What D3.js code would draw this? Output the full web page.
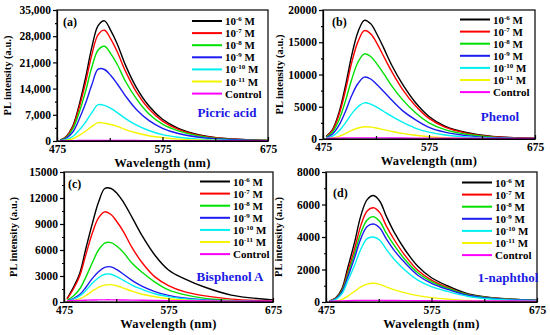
<!DOCTYPE html>
<meta charset="utf-8">
<style>
body { margin: 0; background: #fff; }
svg { font-family: "Liberation Serif", "Times New Roman", serif; font-weight: bold; }
.axis text { font-size: 11.5px; font-weight: bold; fill: #000; font-family: "Liberation Serif", serif; }
.axis path, .axis line { stroke: #000; stroke-width: 1.2px; }
</style>
<body>
<script src="https://d3js.org/d3.v7.min.js"></script>
<script>

const width = 550
const height = 335

// shared wavelength grid (nm) the spectra were read at
const wavelengths = [478, 484, 490, 496, 502, 508, 514, 520, 526, 532, 540, 550, 562, 575, 590, 610, 635, 675]
const xTicks = [475, 575, 675]
const xMinorTicks = [525, 625]

// legend
const exponents = ['-6', '-7', '-8', '-9', '-10', '-11']
const colors = ['#000000', '#ff0000', '#00e000', '#1c1cf0', '#00f0f0', '#f5f500', '#ff00ff']

// (a) picric acid: 1e-6 .. 1e-11 M, control
const picricAcid = [
  [200, 1300, 4000, 9600, 16800, 25000, 30800, 32100, 29500, 26000, 20200, 14400, 9400, 5800, 3400, 1650, 650, 150],
  [180, 1200, 3700, 8900, 15500, 23000, 28400, 29600, 27200, 23900, 18600, 13200, 8600, 5300, 3100, 1500, 600, 150],
  [150, 1000, 3200, 7600, 13200, 19700, 24300, 25300, 23300, 20500, 15900, 11400, 7300, 4500, 2700, 1300, 500, 130],
  [120, 800, 2400, 5800, 10000, 15000, 19200, 19100, 17500, 15300, 12000, 8500, 5500, 3400, 2000, 1000, 400, 100],
  [60, 400, 1200, 2900, 5000, 7600, 9700, 9500, 8700, 7600, 6000, 4300, 2800, 1700, 1000, 500, 200, 60],
  [30, 200, 600, 1500, 2600, 3900, 4900, 4750, 4400, 3900, 3050, 2200, 1400, 900, 500, 250, 100, 30],
  [60, 80, 100, 120, 130, 140, 150, 150, 150, 140, 130, 120, 110, 100, 90, 80, 70, 60]
]

// (b) phenol
const phenol = [
  [370, 1470, 4050, 8100, 12900, 16600, 18400, 17850, 16200, 14200, 11400, 8500, 5700, 3500, 2000, 1000, 400, 110],
  [340, 1340, 3700, 7400, 11800, 15100, 16800, 16300, 14800, 12900, 10400, 7700, 5200, 3200, 1850, 920, 370, 100],
  [260, 1060, 2900, 5800, 9200, 11900, 13200, 12800, 11600, 10200, 8200, 6100, 4100, 2500, 1450, 730, 290, 80],
  [190, 770, 2100, 4200, 6700, 8600, 9600, 9300, 8400, 7400, 6000, 4400, 3000, 1800, 1060, 530, 210, 60],
  [110, 450, 1230, 2460, 3900, 5000, 5600, 5400, 4900, 4300, 3500, 2600, 1700, 1060, 620, 310, 120, 35],
  [40, 150, 420, 840, 1330, 1700, 1900, 1840, 1670, 1460, 1180, 870, 590, 360, 210, 100, 40, 12],
  [100, 120, 140, 160, 170, 180, 180, 180, 175, 170, 160, 150, 140, 130, 120, 110, 100, 90]
]

// (c) bisphenol A
const bisphenolA = [
  [400, 1700, 3300, 6200, 9000, 11500, 13100, 13100, 12500, 11500, 9800, 7600, 5400, 3700, 2700, 1700, 800, 250],
  [350, 1500, 3000, 5500, 7900, 9700, 10400, 10100, 9200, 8100, 6300, 4500, 2900, 1900, 1200, 700, 330, 120],
  [200, 700, 1500, 2900, 4500, 6000, 6800, 6850, 6400, 5700, 4500, 3400, 2300, 1400, 850, 420, 180, 60],
  [120, 400, 850, 1700, 2700, 3500, 4000, 4050, 3700, 3200, 2500, 1800, 1200, 770, 460, 230, 100, 40],
  [100, 320, 700, 1350, 2150, 2800, 3200, 3200, 2900, 2500, 1950, 1450, 950, 620, 370, 190, 80, 30],
  [50, 150, 350, 750, 1250, 1700, 1950, 2000, 1850, 1600, 1250, 900, 600, 380, 230, 120, 50, 20],
  [150, 170, 190, 210, 230, 240, 250, 250, 240, 230, 220, 200, 180, 160, 140, 120, 100, 80]
]

// (d) 1-naphthol
const naphthol = [
  [50, 250, 800, 2200, 3650, 5300, 6300, 6550, 6200, 5300, 4250, 3200, 2200, 1490, 1000, 500, 250, 100],
  [50, 220, 700, 1950, 3250, 4700, 5600, 5800, 5500, 4700, 3800, 2850, 1950, 1350, 900, 450, 230, 100],
  [40, 200, 650, 1750, 2950, 4250, 5050, 5250, 4950, 4250, 3450, 2600, 1800, 1250, 850, 430, 220, 100],
  [40, 180, 600, 1600, 2700, 3900, 4650, 4800, 4550, 3900, 3150, 2400, 1650, 1150, 780, 400, 200, 90],
  [30, 150, 500, 1350, 2250, 3250, 3900, 4000, 3800, 3250, 2600, 1950, 1350, 950, 650, 340, 170, 80],
  [10, 40, 140, 380, 650, 930, 1100, 1150, 1080, 930, 750, 560, 390, 270, 180, 90, 50, 20],
  [50, 60, 70, 80, 90, 100, 100, 100, 100, 95, 90, 85, 80, 75, 70, 65, 60, 55]
]

const panels = [
  { tag: '(a)', name: 'Picric acid', data: picricAcid, yMax: 35000, yStep: 7000, fmt: d3.format(','),
    box: [57, 10, 268, 141], legend: [192, 21], label: [227, 117], tagPos: [63, 26], yTitleX: 9 },
  { tag: '(b)', name: 'Phenol', data: phenol, yMax: 20000, yStep: 5000, fmt: d3.format('d'),
    box: [323, 10, 535, 139], legend: [460, 19.5], label: [500, 121], tagPos: [332, 26], yTitleX: 281 },
  { tag: '(c)', name: 'Bisphenol A', data: bisphenolA, yMax: 15000, yStep: 3000, fmt: d3.format('d'),
    box: [64, 172, 273, 302], legend: [200, 181.5], label: [230, 281], tagPos: [68, 188], yTitleX: 15 },
  { tag: '(d)', name: '1-naphthol', data: naphthol, yMax: 8000, yStep: 2000, fmt: d3.format('d'),
    box: [326, 172, 537, 302], legend: [462, 182.5], label: [508, 282], tagPos: [333, 197], yTitleX: 280 }
]

const svg = d3.select('body').append('svg')
  .attr('width', width)
  .attr('height', height)

panels.forEach((p, pi) => {
  const [x0, y0, x1, y1] = p.box
  const x = d3.scaleLinear().domain([475, 675]).range([x0, x1])
  const y = d3.scaleLinear().domain([0, p.yMax]).range([y1, y0])
  const g = svg.append('g')

  g.append('clipPath').attr('id', 'clip' + pi)
    .append('rect').attr('x', x0).attr('y', y0).attr('width', x1 - x0).attr('height', y1 - y0)

  // spectra
  const line = d3.line()
    .x((d, i) => x(wavelengths[i]))
    .y(d => y(d))
    .curve(d3.curveCatmullRom)

  g.append('g').attr('clip-path', 'url(#clip' + pi + ')')
    .selectAll('path')
    .data(p.data)
    .join('path')
    .attr('d', line)
    .attr('fill', 'none')
    .attr('stroke', (d, i) => colors[i])
    .attr('stroke-width', 1.4)

  // frame
  g.append('rect')
    .attr('x', x0).attr('y', y0)
    .attr('width', x1 - x0).attr('height', y1 - y0)
    .attr('fill', 'none').attr('stroke', '#000').attr('stroke-width', 1.2)

  // y axis
  g.append('g').attr('class', 'axis')
    .attr('transform', `translate(${x0},0)`)
    .call(d3.axisLeft(y).tickValues(d3.range(0, p.yMax + 1, p.yStep)).tickFormat(p.fmt)
      .tickSize(4).tickSizeOuter(0).tickPadding(2))
  g.append('g').attr('class', 'axis')
    .attr('transform', `translate(${x0},0)`)
    .call(d3.axisLeft(y).tickValues(d3.range(p.yStep / 2, p.yMax, p.yStep)).tickFormat('')
      .tickSize(2).tickSizeOuter(0))
    .select('.domain').remove()

  // x axis
  g.append('g').attr('class', 'axis')
    .attr('transform', `translate(0,${y1})`)
    .call(d3.axisBottom(x).tickValues(xTicks).tickSize(-4).tickSizeOuter(0).tickPadding(4))
  g.append('g').attr('class', 'axis')
    .attr('transform', `translate(0,${y1})`)
    .call(d3.axisBottom(x).tickValues(xMinorTicks).tickFormat('').tickSize(-3).tickSizeOuter(0))
    .select('.domain').remove()

  // axis titles
  g.append('text')
    .attr('x', (x0 + x1) / 2).attr('y', y1 + 26)
    .attr('text-anchor', 'middle')
    .style('font-size', '12.5px')
    .style('letter-spacing', '0.3px')
    .text('Wavelength (nm)')
  g.append('text')
    .attr('transform', `translate(${p.yTitleX},${(y0 + y1) / 2}) rotate(-90)`)
    .attr('text-anchor', 'middle')
    .attr('dominant-baseline', 'middle')
    .style('font-size', '10.5px')
    .text('PL intensity (a.u.)')

  // panel tag and analyte name
  g.append('text')
    .attr('x', p.tagPos[0]).attr('y', p.tagPos[1])
    .style('font-size', '12px')
    .text(p.tag)
  g.append('text')
    .attr('x', p.label[0]).attr('y', p.label[1])
    .attr('text-anchor', 'middle')
    .style('font-size', '13px')
    .attr('fill', '#1a1ae6')
    .text(p.name)

  // legend
  const lg = g.append('g')
  colors.forEach((c, i) => {
    const ly = p.legend[1] + i * 12.1
    lg.append('line')
      .attr('x1', p.legend[0]).attr('x2', p.legend[0] + 30)
      .attr('y1', ly).attr('y2', ly)
      .attr('stroke', c).attr('stroke-width', 2)
    const t = lg.append('text')
      .attr('x', p.legend[0] + 33).attr('y', ly + 4)
      .style('font-size', '11px')
    if (i < exponents.length) {
      t.append('tspan').text('10')
      t.append('tspan').attr('dy', -4).style('font-size', '7px').text(exponents[i])
      t.append('tspan').attr('dy', 4).text(' M')
    } else {
      t.text('Control')
    }
  })
})

</script>
</body>
</html>
